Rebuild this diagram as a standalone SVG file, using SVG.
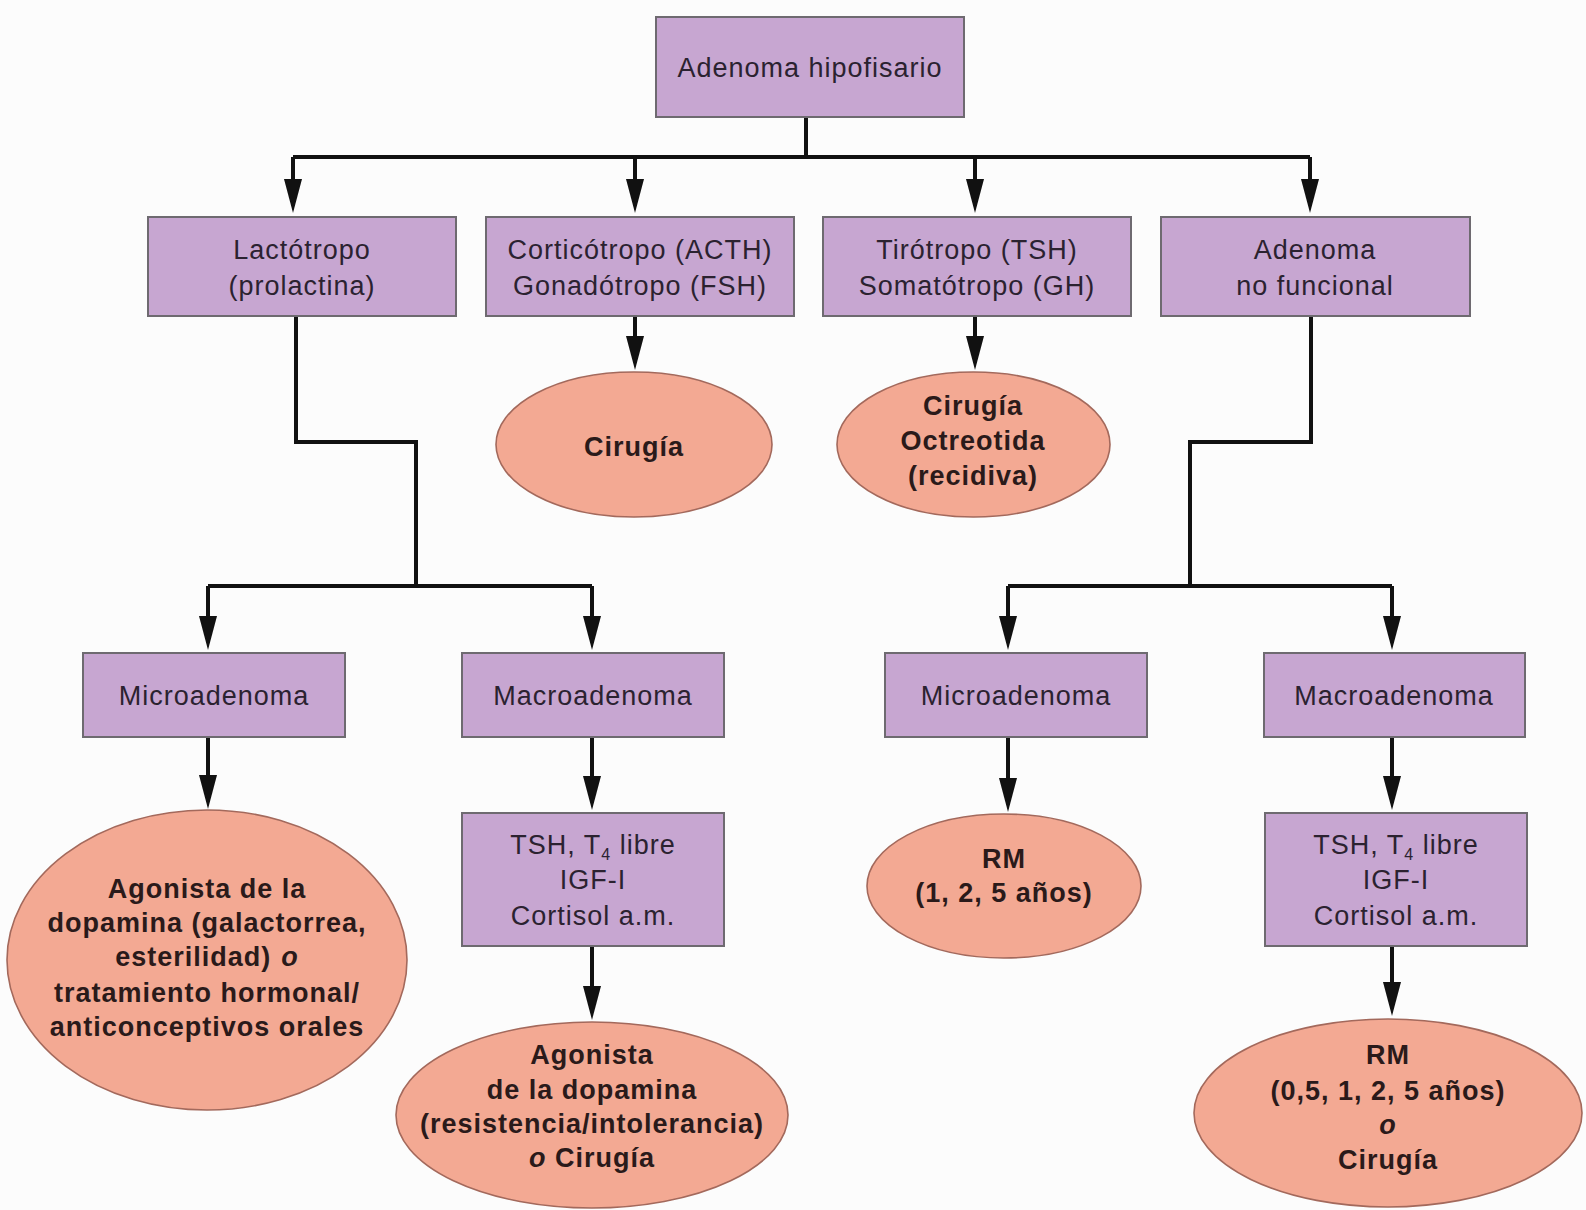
<svg xmlns="http://www.w3.org/2000/svg" width="1586" height="1210" viewBox="0 0 1586 1210">
<style>
.bg{fill:#FCFCFC}
.box{fill:#C7A6D1;stroke:#6E6A70;stroke-width:2}
.ell{fill:#F3A993;stroke:#A3695C;stroke-width:1.6}
.t{font-family:"Liberation Sans",Arial,Helvetica,sans-serif;font-size:27px;letter-spacing:1px;fill:#2B2230;text-anchor:middle}
.b{font-weight:bold;fill:#2A1A1A}
.i{font-style:italic}
.c{fill:none;stroke:#111;stroke-width:4;stroke-linejoin:miter}
</style>
<defs>
<marker id="ah" markerUnits="userSpaceOnUse" viewBox="0 0 34 18" markerWidth="34" markerHeight="18" refX="14" refY="9" orient="auto">
<path d="M0,0 L34,9 L0,18 z" fill="#111"/>
</marker>
</defs>
<rect class="bg" x="0" y="0" width="1586" height="1210"/>

<g id="connectors">
<path class="c" d="M806,117 V157"/>
<path class="c" d="M293,157 H1310"/>
<path class="c" d="M293,157 V193" marker-end="url(#ah)"/>
<path class="c" d="M635,157 V193" marker-end="url(#ah)"/>
<path class="c" d="M975,157 V193" marker-end="url(#ah)"/>
<path class="c" d="M1310,157 V193" marker-end="url(#ah)"/>
<path class="c" d="M635,316 V350" marker-end="url(#ah)"/>
<path class="c" d="M975,316 V350" marker-end="url(#ah)"/>
<path class="c" d="M296,316 V442 H416 V586"/>
<path class="c" d="M208,586 H592"/>
<path class="c" d="M208,586 V630" marker-end="url(#ah)"/>
<path class="c" d="M592,586 V630" marker-end="url(#ah)"/>
<path class="c" d="M1311,316 V442 H1190 V586"/>
<path class="c" d="M1008,586 H1392"/>
<path class="c" d="M1008,586 V630" marker-end="url(#ah)"/>
<path class="c" d="M1392,586 V630" marker-end="url(#ah)"/>
<path class="c" d="M208,737 V789" marker-end="url(#ah)"/>
<path class="c" d="M592,737 V790" marker-end="url(#ah)"/>
<path class="c" d="M592,946 V1000" marker-end="url(#ah)"/>
<path class="c" d="M1008,737 V792" marker-end="url(#ah)"/>
<path class="c" d="M1392,737 V790" marker-end="url(#ah)"/>
<path class="c" d="M1392,946 V996" marker-end="url(#ah)"/>
</g>

<g id="n-adenoma-hipofisario">
<rect class="box" x="656" y="17" width="308" height="100"/>
<text class="t" x="810" y="77">Adenoma hipofisario</text>
</g>

<g id="n-lactotropo">
<rect class="box" x="148" y="217" width="308" height="99"/>
<text class="t" x="302" y="259">Lactótropo</text>
<text class="t" x="302" y="295">(prolactina)</text>
</g>

<g id="n-corticotropo">
<rect class="box" x="486" y="217" width="308" height="99"/>
<text class="t" x="640" y="259">Corticótropo (ACTH)</text>
<text class="t" x="640" y="295">Gonadótropo (FSH)</text>
</g>

<g id="n-tirotropo">
<rect class="box" x="823" y="217" width="308" height="99"/>
<text class="t" x="977" y="259">Tirótropo (TSH)</text>
<text class="t" x="977" y="295">Somatótropo (GH)</text>
</g>

<g id="n-no-funcional">
<rect class="box" x="1161" y="217" width="309" height="99"/>
<text class="t" x="1315" y="259">Adenoma</text>
<text class="t" x="1315" y="295">no funcional</text>
</g>

<g id="n-cirugia-1">
<ellipse class="ell" cx="634" cy="444.5" rx="138" ry="72.5"/>
<text class="t b" x="634" y="456">Cirugía</text>
</g>

<g id="n-cirugia-octreotida">
<ellipse class="ell" cx="973.5" cy="444.5" rx="136.5" ry="72.5"/>
<text class="t b" x="973" y="415">Cirugía</text>
<text class="t b" x="973" y="450">Octreotida</text>
<text class="t b" x="973" y="485">(recidiva)</text>
</g>

<g id="n-micro-l">
<rect class="box" x="83" y="653" width="262" height="84"/>
<text class="t" x="214" y="705">Microadenoma</text>
</g>

<g id="n-macro-l">
<rect class="box" x="462" y="653" width="262" height="84"/>
<text class="t" x="593" y="705">Macroadenoma</text>
</g>

<g id="n-agonista-l">
<ellipse class="ell" cx="207" cy="960" rx="200" ry="150"/>
<text class="t b" x="207" y="898">Agonista de la</text>
<text class="t b" x="207" y="932">dopamina (galactorrea,</text>
<text class="t b" x="207" y="966">esterilidad)<tspan class="i" dx="10">o</tspan></text>
<text class="t b" x="207" y="1002">tratamiento hormonal/</text>
<text class="t b" x="207" y="1036">anticonceptivos orales</text>
</g>

<g id="n-tsh-l">
<rect class="box" x="462" y="813" width="262" height="133"/>
<text class="t" x="593" y="854">TSH, T<tspan font-size="16" dy="6">4</tspan><tspan dy="-6"> libre</tspan></text>
<text class="t" x="593" y="889">IGF-I</text>
<text class="t" x="593" y="925">Cortisol a.m.</text>
</g>

<g id="n-agonista-r">
<ellipse class="ell" cx="592" cy="1115" rx="196" ry="93"/>
<text class="t b" x="592" y="1064">Agonista</text>
<text class="t b" x="592" y="1099">de la dopamina</text>
<text class="t b" x="592" y="1133">(resistencia/intolerancia)</text>
<text class="t b" x="592" y="1167"><tspan class="i">o</tspan> Cirugía</text>
</g>

<g id="n-micro-r">
<rect class="box" x="885" y="653" width="262" height="84"/>
<text class="t" x="1016" y="705">Microadenoma</text>
</g>

<g id="n-macro-r">
<rect class="box" x="1264" y="653" width="261" height="84"/>
<text class="t" x="1394" y="705">Macroadenoma</text>
</g>

<g id="n-rm-1">
<ellipse class="ell" cx="1004" cy="886" rx="137" ry="72"/>
<text class="t b" x="1004" y="868">RM</text>
<text class="t b" x="1004" y="902">(1, 2, 5 años)</text>
</g>

<g id="n-tsh-r">
<rect class="box" x="1265" y="813" width="262" height="133"/>
<text class="t" x="1396" y="854">TSH, T<tspan font-size="16" dy="6">4</tspan><tspan dy="-6"> libre</tspan></text>
<text class="t" x="1396" y="889">IGF-I</text>
<text class="t" x="1396" y="925">Cortisol a.m.</text>
</g>

<g id="n-rm-2">
<ellipse class="ell" cx="1388" cy="1113" rx="194" ry="94"/>
<text class="t b" x="1388" y="1064">RM</text>
<text class="t b" x="1388" y="1100">(0,5, 1, 2, 5 años)</text>
<text class="t b i" x="1388" y="1134">o</text>
<text class="t b" x="1388" y="1169">Cirugía</text>
</g>
</svg>
